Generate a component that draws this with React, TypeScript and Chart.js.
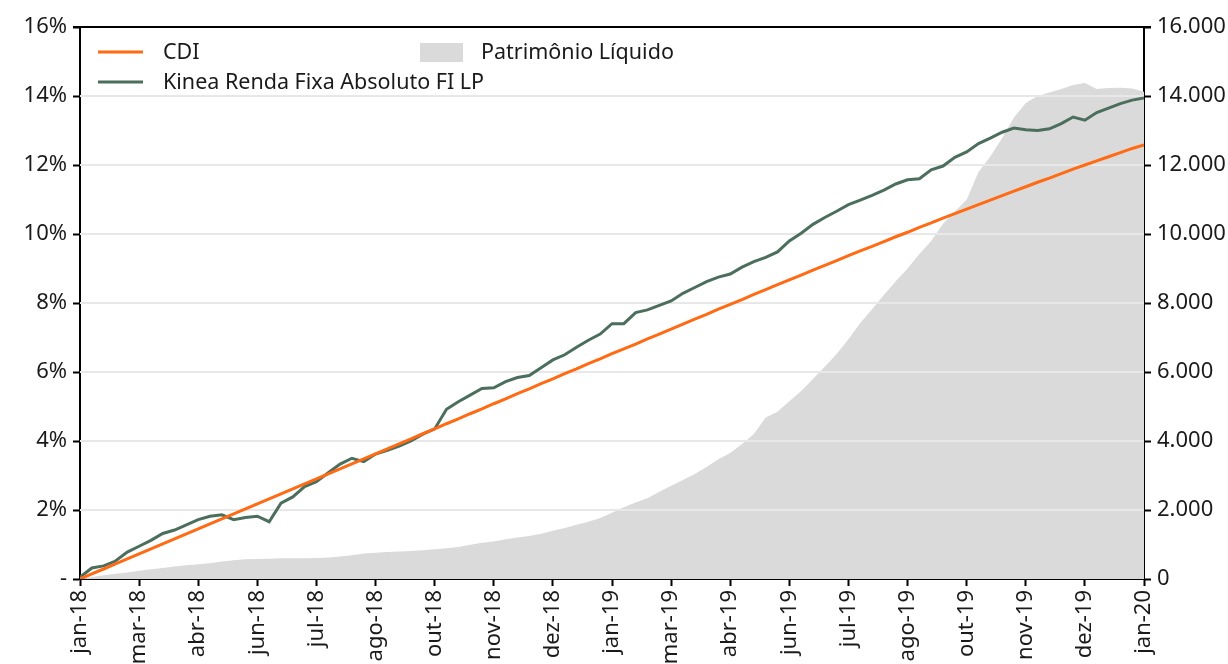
import React, { useEffect, useRef } from "react";
import { Chart, registerables } from "chart.js";

Chart.register(...registerables);

const xTickLabels = [
  "jan-18", "mar-18", "abr-18", "jun-18", "jul-18", "ago-18", "out-18", "nov-18", "dez-18",
  "jan-19", "mar-19", "abr-19", "jun-19", "jul-19", "ago-19", "out-19", "nov-19", "dez-19", "jan-20",
];

const cdi = [
  0.0, 0.15, 0.29, 0.44, 0.58, 0.73, 0.87, 1.02, 1.16, 1.31,
  1.45, 1.6, 1.74, 1.89, 2.03, 2.18, 2.32, 2.47, 2.61, 2.76,
  2.9, 3.05, 3.19, 3.34, 3.48, 3.63, 3.77, 3.92, 4.06, 4.21,
  4.35, 4.5, 4.64, 4.79, 4.93, 5.08, 5.22, 5.37, 5.51, 5.66,
  5.8, 5.95, 6.09, 6.24, 6.38, 6.53, 6.67, 6.81, 6.96, 7.1,
  7.24, 7.39, 7.53, 7.67, 7.82, 7.96, 8.1, 8.25, 8.39, 8.53,
  8.67, 8.81, 8.95, 9.09, 9.23, 9.37, 9.51, 9.64, 9.78, 9.92,
  10.05, 10.19, 10.32, 10.46, 10.59, 10.72, 10.85, 10.98, 11.11, 11.24,
  11.37, 11.5, 11.62, 11.75, 11.88, 12.0, 12.12, 12.24, 12.36, 12.48,
  12.58,
];

const kinea = [
  0.05, 0.32, 0.38, 0.52, 0.78, 0.95, 1.12, 1.32, 1.42, 1.57,
  1.72, 1.82, 1.86, 1.72, 1.78, 1.82, 1.66, 2.2, 2.38, 2.68,
  2.82, 3.08, 3.33, 3.5, 3.4, 3.62, 3.73, 3.85, 4.0, 4.2,
  4.35, 4.92, 5.14, 5.33, 5.52, 5.54, 5.72, 5.84, 5.9, 6.12,
  6.35, 6.5, 6.72, 6.92, 7.1, 7.4, 7.4, 7.72, 7.8, 7.93,
  8.06, 8.28, 8.45, 8.62, 8.75, 8.84, 9.04, 9.2, 9.32, 9.48,
  9.8, 10.02, 10.28, 10.48, 10.66, 10.85, 10.98, 11.12, 11.27, 11.45,
  11.57, 11.6, 11.86, 11.97, 12.22, 12.38, 12.62, 12.78, 12.95, 13.07,
  13.02, 13.0, 13.05, 13.2, 13.39, 13.3, 13.52, 13.65, 13.78, 13.88,
  13.94,
];

const patrimonio = [
  0, 60, 110, 150, 190, 240, 280, 320, 360, 400,
  430, 460, 510, 540, 570, 580, 590, 600, 600, 605,
  610, 620, 650, 690, 740, 760, 780, 795, 810, 830,
  860, 890, 930, 990, 1050, 1090, 1150, 1200, 1250, 1310,
  1400, 1480, 1570, 1660, 1770, 1920, 2080, 2220, 2340, 2530,
  2700, 2870, 3040, 3250, 3470, 3650, 3910, 4200, 4680, 4850,
  5150, 5450, 5800, 6150, 6520, 6950, 7420, 7820, 8230, 8630,
  9000, 9420, 9800, 10300, 10650, 10990, 11800, 12250, 12780, 13380,
  13800, 14000, 14100, 14200, 14320, 14380, 14200, 14230, 14240, 14220,
  14120,
];

const seriesNames = ["CDI", "Kinea Renda Fixa Absoluto FI LP", "Patrimônio Líquido"];

const ORANGE = "#FF6A13";
const GREEN = "#4B6E5D";
const GREY = "#DADADA";
const GRID = "#E8E8E8";
const TEXT = "#1a1a1a";
const FONT = "'Noto Sans', sans-serif";
const AXIS_SIZE = 22;
const LEGEND_SIZE = 21.5;

const toPoints = (arr: number[]) => arr.map((v, i) => ({ x: i, y: v }));

const gridPlugin = {
  id: "gridOverFill",
  afterDatasetDraw(chart: any, args: any) {
    if (args.index !== 2) return;
    const { ctx, chartArea } = chart;
    const y = chart.scales.y;
    ctx.save();
    ctx.strokeStyle = GRID;
    ctx.lineWidth = 2;
    for (let v = 2; v <= 14; v += 2) {
      const py = Math.round(y.getPixelForValue(v));
      ctx.beginPath();
      ctx.moveTo(chartArea.left, py);
      ctx.lineTo(chartArea.right, py);
      ctx.stroke();
    }
    ctx.restore();
  },
  afterDraw(chart: any) {
    const { ctx, chartArea } = chart;
    ctx.save();
    ctx.strokeStyle = "#000";
    ctx.lineWidth = 2;
    ctx.beginPath();
    ctx.moveTo(chartArea.left - 7, chartArea.top);
    ctx.lineTo(chartArea.right + 7, chartArea.top);
    ctx.stroke();
    ctx.font = `${LEGEND_SIZE}px ${FONT}`;
    ctx.fillStyle = TEXT;
    ctx.textBaseline = "middle";
    ctx.textAlign = "left";
    ctx.lineWidth = 3;
    ctx.strokeStyle = ORANGE;
    ctx.beginPath();
    ctx.moveTo(98, 52);
    ctx.lineTo(143, 52);
    ctx.stroke();
    ctx.fillText(seriesNames[0], 163, 53);
    ctx.strokeStyle = GREEN;
    ctx.beginPath();
    ctx.moveTo(98, 82);
    ctx.lineTo(143, 82);
    ctx.stroke();
    ctx.fillText(seriesNames[1], 163, 83);
    ctx.fillStyle = GREY;
    ctx.fillRect(420, 43, 43, 19);
    ctx.fillStyle = TEXT;
    ctx.fillText(seriesNames[2], 481, 53);
    ctx.restore();
  },
};

export default function App() {
  const ref = useRef<HTMLCanvasElement | null>(null);

  useEffect(() => {
    if (!ref.current) return;
    const chart = new Chart(ref.current, {
      type: "line",
      data: {
        datasets: [
          {
            label: seriesNames[0],
            data: toPoints(cdi),
            borderColor: ORANGE,
            borderWidth: 3,
            pointRadius: 0,
            fill: false,
            yAxisID: "y",
            tension: 0,
          },
          {
            label: seriesNames[1],
            data: toPoints(kinea),
            borderColor: GREEN,
            borderWidth: 3,
            pointRadius: 0,
            fill: false,
            yAxisID: "y",
            tension: 0,
          },
          {
            label: seriesNames[2],
            data: toPoints(patrimonio),
            borderColor: GREY,
            borderWidth: 0,
            backgroundColor: GREY,
            pointRadius: 0,
            fill: "origin",
            yAxisID: "y2",
            tension: 0,
          },
        ],
      },
      options: {
        animation: false,
        responsive: true,
        maintainAspectRatio: false,
        layout: { padding: { top: 27, left: 0, right: 0, bottom: 0 } },
        plugins: { legend: { display: false }, tooltip: { enabled: false } },
        scales: {
          x: {
            type: "linear",
            min: 0,
            max: 90,
            afterFit: (s: any) => { s.height = 85; },
            afterBuildTicks: (s: any) => {
              s.ticks = xTickLabels.map((_, i) => ({ value: i * 5 }));
            },
            ticks: {
              autoSkip: false,
              maxRotation: 90,
              minRotation: 90,
              padding: 4,
              color: TEXT,
              font: { family: FONT, size: AXIS_SIZE },
              callback: (v: any) => xTickLabels[Math.round(Number(v) / 5)],
            },
            grid: { drawOnChartArea: false, tickLength: 7, tickColor: "#000", tickWidth: 2 },
            border: { color: "#000", width: 2 },
          },
          y: {
            position: "left",
            min: 0,
            max: 16,
            afterFit: (s: any) => { s.width = 80; },
            ticks: {
              stepSize: 2,
              padding: 6,
              color: TEXT,
              font: { family: FONT, size: AXIS_SIZE },
              callback: (v: any) => (Number(v) === 0 ? "-" : `${v}%`),
            },
            grid: { drawOnChartArea: false, tickLength: 7, tickColor: "#000", tickWidth: 2 },
            border: { color: "#000", width: 2 },
          },
          y2: {
            position: "right",
            min: 0,
            max: 16000,
            afterFit: (s: any) => { s.width = 84; },
            ticks: {
              stepSize: 2000,
              padding: 6,
              color: TEXT,
              font: { family: FONT, size: AXIS_SIZE },
              callback: (v: any) => {
                const n = Number(v);
                return n === 0 ? "0" : `${n / 1000}.000`;
              },
            },
            grid: { drawOnChartArea: false, tickLength: 7, tickColor: "#000", tickWidth: 2 },
            border: { color: "#000", width: 2 },
          },
        },
      },
      plugins: [gridPlugin],
    } as any);
    return () => chart.destroy();
  }, []);

  return (
    <div style={{ position: "fixed", left: 0, top: 0, width: 1228, height: 664, background: "#fff" }}>
      <canvas ref={ref} />
    </div>
  );
}
